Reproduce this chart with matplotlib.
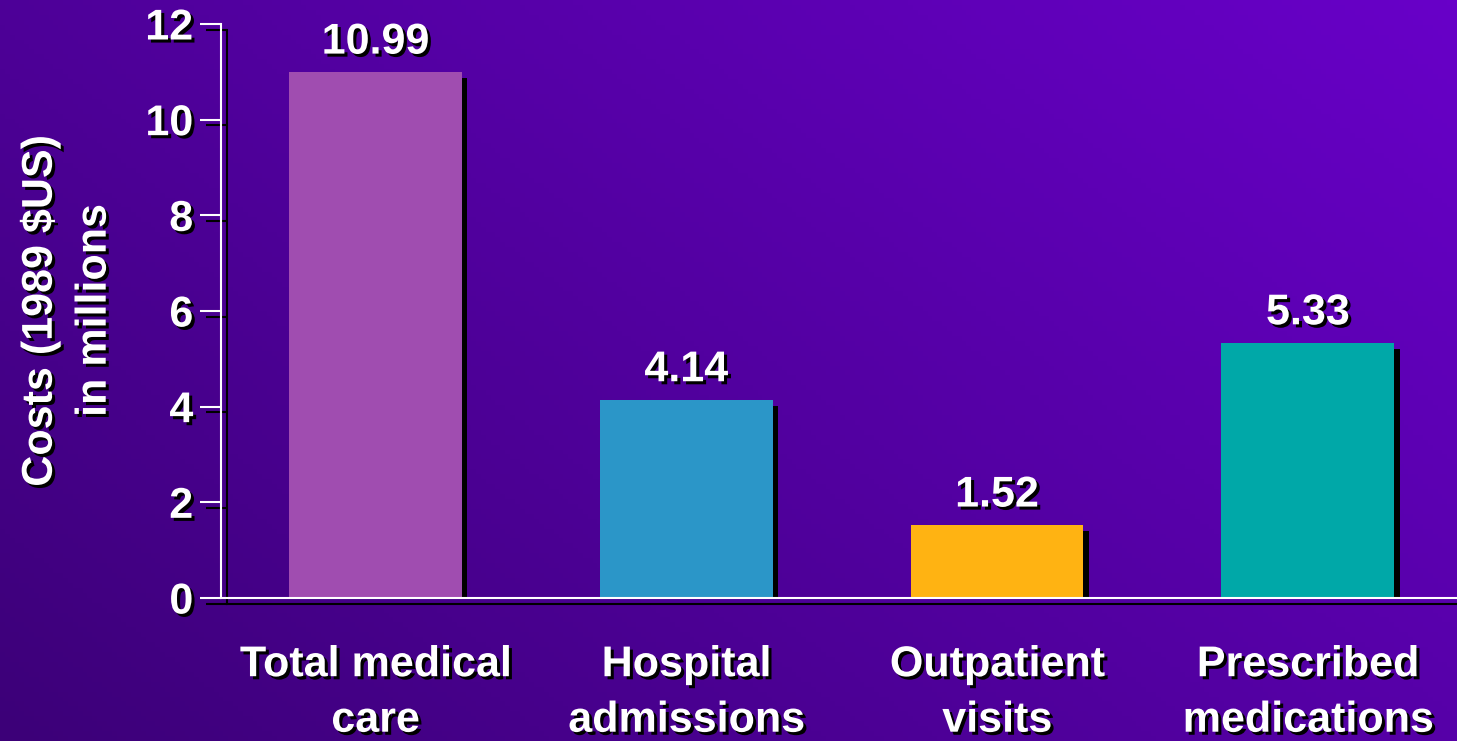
import numpy as np
import matplotlib
matplotlib.use("Agg")
import matplotlib.pyplot as plt
import matplotlib.patheffects as pe
from matplotlib.colors import LinearSegmentedColormap

categories = ["Total medical\ncare", "Hospital\nadmissions", "Outpatient\nvisits", "Prescribed\nmedications"]
costs = [10.99, 4.14, 1.52, 5.33]
value_labels = ["10.99", "4.14", "1.52", "5.33"]
bar_colors = ["#a04db0", "#2b96c8", "#ffb312", "#00a8a8"]
y_ticks = [0, 2, 4, 6, 8, 10, 12]

plt.rcParams['font.family'] = ['Liberation Sans', 'DejaVu Sans']
plt.rcParams['font.weight'] = 'bold'

fig = plt.figure(figsize=(14.57, 7.41), dpi=100)

# background gradient, dark lower-left to brighter upper-right
bg = fig.add_axes([0, 0, 1, 1], zorder=-10)
gx, gy = np.meshgrid(np.linspace(0, 1, 300), np.linspace(0, 1, 150))
grad = (gx * 0.6 + (1 - gy) * 0.4)
cmap = LinearSegmentedColormap.from_list("bg", ["#3c0078", "#6800c8"])
bg.imshow(grad, cmap=cmap, aspect='auto', extent=[0, 1, 0, 1], origin='upper')
bg.axis('off')

ax = fig.add_axes([0.1517, 0.193, 0.8483, 0.7746])
ax.patch.set_alpha(0)

txt_shadow = [pe.withSimplePatchShadow(offset=(2.2, -2.2), shadow_rgbFace='black', alpha=1)]
line_shadow = [pe.SimpleLineShadow(offset=(4, -4), shadow_color='black', alpha=1), pe.Normal()]

x = np.arange(len(categories))
bars = ax.bar(x, costs, width=0.556, color=bar_colors, zorder=3)
for b in bars:
    b.set_path_effects([pe.SimplePatchShadow(offset=(4, -4), shadow_rgbFace='black', alpha=1), pe.Normal()])

for xi, v, lab in zip(x, costs, value_labels):
    ax.annotate(lab, (xi, v), xytext=(0, 7), textcoords='offset points',
                ha='center', va='bottom', fontsize=31, color='white',
                fontweight='bold', path_effects=txt_shadow, zorder=5)

ax.set_xlim(-0.497, 3.48)
ax.set_ylim(0, 12)
ax.set_yticks(y_ticks)
ax.set_xticks(x)
ax.set_xticklabels(categories, fontsize=31, color='white', fontweight='bold', linespacing=1.5)
ax.tick_params(axis='x', length=0, pad=34)
ax.tick_params(axis='y', length=15, width=1.5, color='white', pad=5, labelsize=31, labelcolor='white')
for lab in ax.get_yticklabels() + ax.get_xticklabels():
    lab.set_path_effects(txt_shadow)
    lab.set_fontweight('bold')
for t in ax.yaxis.get_ticklines():
    t.set_path_effects(line_shadow)

for s in ['top', 'right']:
    ax.spines[s].set_visible(False)
for s in ['left', 'bottom']:
    ax.spines[s].set_color('white')
    ax.spines[s].set_linewidth(1.5)
    ax.spines[s].set_path_effects(line_shadow)
    ax.spines[s].set_zorder(4)

ax.set_ylabel("Costs (1989 $US)\nin millions", fontsize=31, color='white',
              fontweight='bold', labelpad=22, linespacing=1.45, path_effects=txt_shadow)

fig.savefig("out.png", dpi=100)
